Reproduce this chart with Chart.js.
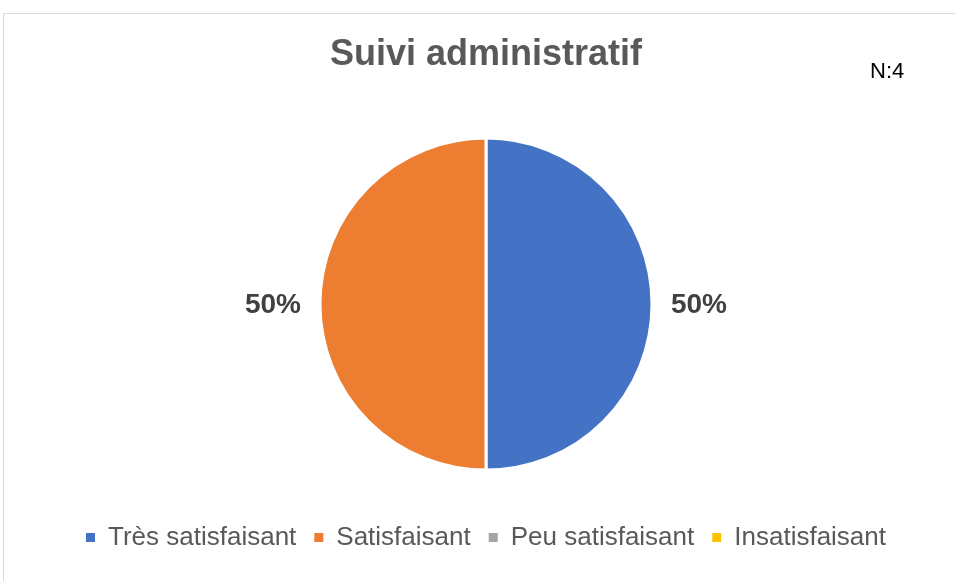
<!DOCTYPE html>
<html>
<head>
<meta charset="utf-8">
<script src="https://cdn.jsdelivr.net/npm/chart.js@4"></script>
<style>
  html, body { margin: 0; padding: 0; background: #fff; }
  #wrap { width: 955px; height: 581px; }
</style>
</head>
<body>
<div id="wrap"><canvas id="chart-suivi"></canvas></div>
<script>
const categories = ['Très satisfaisant', 'Satisfaisant', 'Peu satisfaisant', 'Insatisfaisant'];
const counts = [2, 2, 0, 0];
const colors = ['#4472C4', '#ED7D31', '#A5A5A5', '#FFC000'];
const titleText = 'Suivi administratif';
const totalText = 'N:4';

const total = counts.reduce((a, b) => a + b, 0);

// cadre gris + texte N
const framePlugin = {
    id: 'frame',
    beforeDraw(chart) {
        const ctx = chart.ctx;
        ctx.save();
        ctx.fillStyle = '#fff';
        ctx.fillRect(0, 0, chart.width, chart.height);
        ctx.strokeStyle = '#d9d9d9';
        ctx.lineWidth = 1;
        ctx.strokeRect(3.5, 13.5, chart.width + 10, chart.height + 10);
        ctx.restore();
    },
    afterDraw(chart) {
        const ctx = chart.ctx;
        ctx.save();
        ctx.font = '22px "Liberation Sans", Arial, sans-serif';
        ctx.fillStyle = '#000';
        ctx.textAlign = 'left';
        ctx.textBaseline = 'alphabetic';
        ctx.fillText(totalText, 870, 78);
        ctx.restore();
    }
};

// pourcentages a l'exterieur
const pctPlugin = {
    id: 'pct',
    afterDatasetsDraw(chart) {
        const ctx = chart.ctx;
        const meta = chart.getDatasetMeta(0);
        ctx.save();
        ctx.font = 'bold 28px "Liberation Sans", Arial, sans-serif';
        ctx.fillStyle = '#404040';
        ctx.textAlign = 'center';
        ctx.textBaseline = 'middle';
        meta.data.forEach((arc, i) => {
            if (!counts[i]) return;
            const p = arc.getProps(['x', 'y', 'startAngle', 'endAngle', 'outerRadius'], true);
            const mid = (p.startAngle + p.endAngle) / 2;
            const r = p.outerRadius + 47;
            const txt = Math.round(counts[i] / total * 100) + '%';
            ctx.fillText(txt, p.x + Math.cos(mid) * r, p.y + Math.sin(mid) * r + 1);
        });
        ctx.restore();
    }
};

const configSuivi = new Chart(
    document.getElementById('chart-suivi'), {
    type: 'pie',
    data: {
        labels: categories,
        datasets: [{
            data: counts,
            backgroundColor: colors,
            borderColor: '#fff',
            borderWidth: 3,
            radius: 166
        }]
    },
    options: {
        responsive: true,
        maintainAspectRatio: false,
        animation: false,
        layout: {
            padding: { top: 23.5, left: 17, right: 0, bottom: 20.5 }
        },
        plugins: {
            title: {
                display: true,
                text: titleText,
                color: '#595959',
                font: { family: '"Liberation Sans", Arial, sans-serif', size: 36, weight: 'bold', lineHeight: 1.2 },
                padding: { top: 10, bottom: 25 }
            },
            legend: {
                position: 'bottom',
                labels: {
                    color: '#595959',
                    font: { family: '"Liberation Sans", Arial, sans-serif', size: 26 },
                    boxWidth: 9,
                    boxHeight: 9,
                    padding: 18,
                    generateLabels(chart) {
                        return categories.map((c, i) => ({
                            text: c,
                            fillStyle: colors[i],
                            strokeStyle: colors[i],
                            lineWidth: 0,
                            fontColor: '#595959',
                            hidden: !chart.getDataVisibility(i),
                            index: i
                        }));
                    }
                }
            },
            tooltip: { enabled: false }
        }
    },
    plugins: [framePlugin, pctPlugin]
});
</script>
</body>
</html>
